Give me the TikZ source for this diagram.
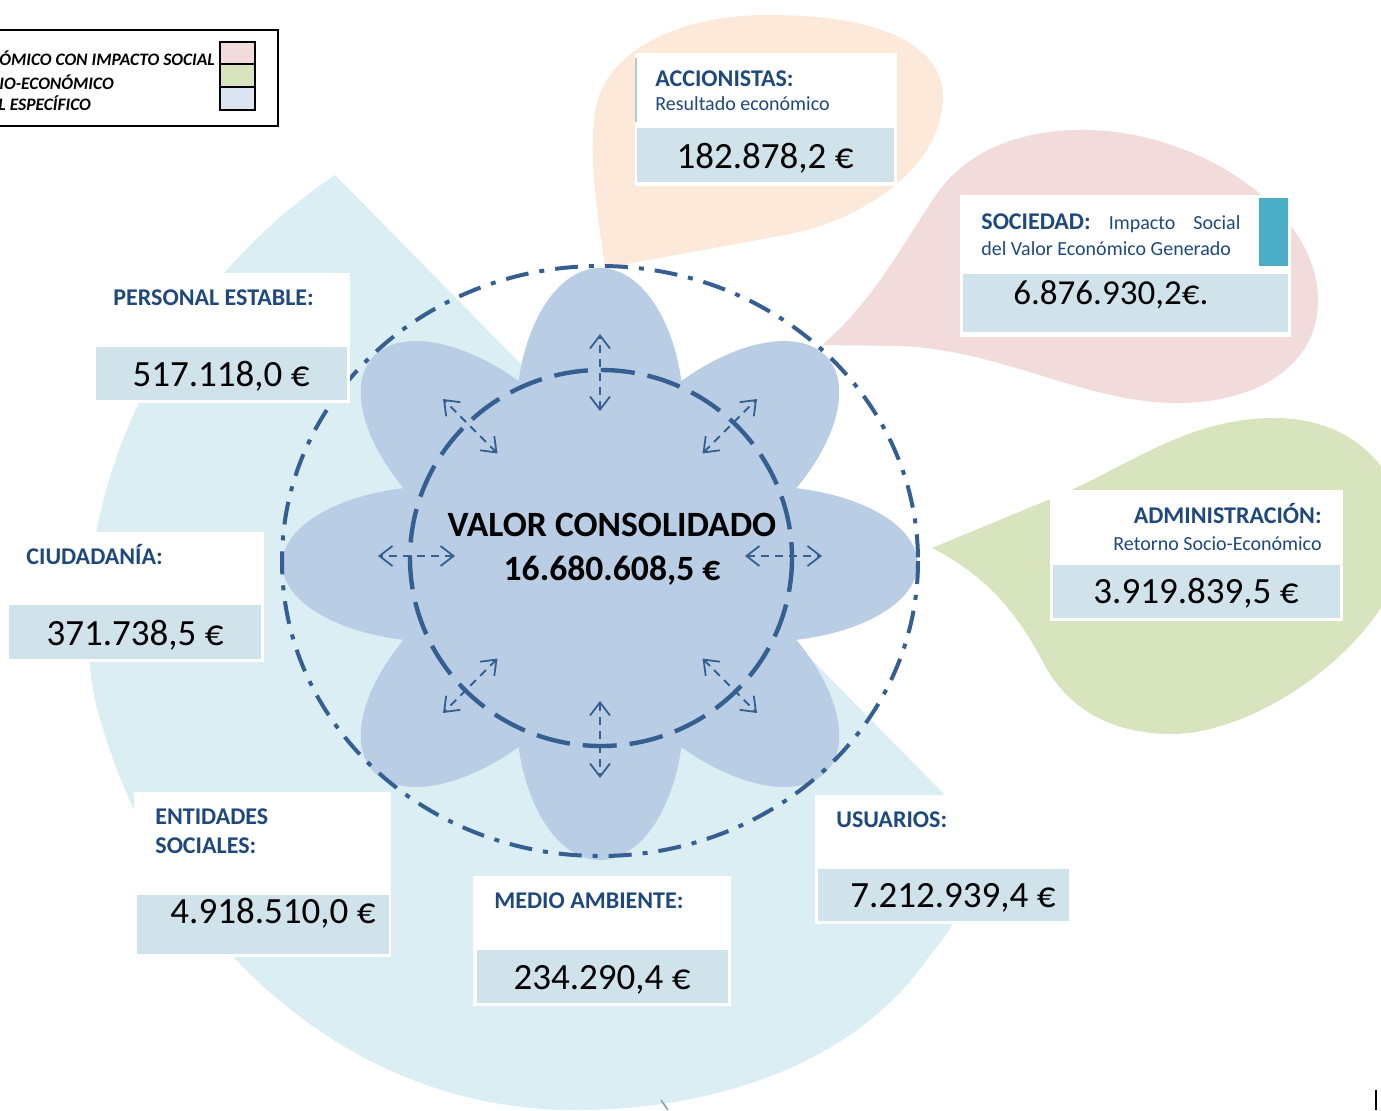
\documentclass[tikz,border=0pt]{standalone}
\usepackage{fontspec}
\setmainfont{Carlito}
\usetikzlibrary{arrows.meta}

\definecolor{lblblue}{HTML}{1F497D}
\definecolor{ringblue}{HTML}{365F91}
\definecolor{petal}{HTML}{B9CDE5}
\definecolor{drop}{HTML}{DAEEF3}
\definecolor{valfill}{HTML}{D0E2EA}
\definecolor{peach}{HTML}{FDE9D9}
\definecolor{rose}{HTML}{F2DCDB}
\definecolor{sage}{HTML}{D7E4BD}
\definecolor{sky}{HTML}{DBE5F1}
\definecolor{tealbar}{HTML}{4BACC6}
\definecolor{edgeline}{RGB}{170,205,215}

\tikzset{
	lbl/.style = {anchor = base west, inner sep = 0, text = lblblue, font = \fontsize{12}{14}\selectfont\bfseries},
	sub/.style = {anchor = base west, inner sep = 0, text = lblblue, font = \fontsize{10}{13}\selectfont},
	val/.style = {anchor = base, inner sep = 0, font = \fontsize{18.5}{22}\selectfont},
	legtxt/.style = {anchor = base west, inner sep = 0, font = \fontsize{8.75}{10}\selectfont\bfseries\itshape},
	swatch/.style = {draw = black, line width = 0.8pt},
	ring/.style = {draw = ringblue, line width = 2pt},
	dbl/.style = {<->, ringblue, line width = 0.9pt, dash pattern = on 4pt off 3pt}
}

\begin{document}
\begin{tikzpicture}[x = 0.5pt, y = -0.5pt, > = {Straight Barb[length = 6.5pt, width = 10pt]}]

	% Definitions

	\def\R{148}		% Petal half length
	\def\W{78}		% Petal half width

	\useasboundingbox (0, 0) rectangle (1381, 1110);

	% Speech bubbles

	\fill [peach] (605, 268) .. controls (598, 215) and (588, 160) .. (595, 112) .. controls (605, 45) and (690, 14) .. (770, 15) .. controls (880, 15) and (945, 45) .. (943, 100) .. controls (940, 170) and (860, 220) .. (790, 234) -- cycle;
	\fill [rose] (822, 345) .. controls (875, 300) and (905, 240) .. (936, 195) .. controls (965, 152) and (1020, 128) .. (1090, 130) .. controls (1200, 133) and (1318, 210) .. (1318, 300) .. controls (1318, 370) and (1250, 405) .. (1170, 403) .. controls (1080, 400) and (1000, 350) .. (900, 346) -- cycle;
	\fill [sage] (932, 548) -- (1060, 495) .. controls (1130, 465) and (1185, 420) .. (1270, 418) .. controls (1360, 416) and (1410, 480) .. (1405, 550) .. controls (1390, 640) and (1260, 735) .. (1170, 734) .. controls (1100, 733) and (1062, 700) .. (1042, 660) .. controls (1015, 610) and (985, 575) .. cycle;

	% Big drop

	\fill [drop] (335, 175) -- (940, 790) .. controls (990, 840) and (975, 905) .. (930, 955) .. controls (860, 1060) and (720, 1112) .. (565, 1110) .. controls (330, 1105) and (150, 920) .. (95, 700) .. controls (60, 520) and (150, 300) .. cycle;

	% Flower

	\begin{scope}[shift = {(600, 564)}, xscale = 1.073]
		\fill [petal] (0, 0) circle (190);
		\foreach \a in {0, 45, ..., 315}
			\fill [petal, rotate = \a] (\R, 0) ellipse [x radius = \R, y radius = \W];
	\end{scope}

	% Rings

	\draw [ring, dash pattern = on 11.5pt off 5.5pt on 2.5pt off 5.5pt] (600, 561) ellipse [x radius = 318, y radius = 295];
	\draw [ring, line width = 2.2pt, dash pattern = on 17pt off 6.5pt] (601, 558) ellipse [x radius = 191, y radius = 188];

	% Double arrows

	\begin{scope}[shift = {(600, 556)}]
		\foreach \a in {0, 45, ..., 315}
			\draw [dbl] (\a : 145) -- (\a : 222);
	\end{scope}

	% Centre

	\node [anchor = base, inner sep = 0, font = \fontsize{17.8}{20}\selectfont\bfseries] (total lbl) at (612, 536) {VALOR CONSOLIDADO};
	\node [anchor = base, inner sep = 0, font = \fontsize{17.8}{20}\selectfont\bfseries] (total val) at (612, 580) {16.680.608,5 €};

	% Accionistas

	\fill [white] (635, 53) rectangle (897, 186);
	\fill [valfill] (637, 128) rectangle (894, 182);
	\draw [edgeline, line width = 0.6pt] (636, 58) -- (636, 122);
	\node [lbl] (acc lbl) at (655, 86) {ACCIONISTAS:};
	\node [sub] (acc sub) at (655, 110) {Resultado económico};
	\node [val] (acc val) at (765, 168) {182.878,2 €};

	% Sociedad

	\fill [white] (960, 195) rectangle (1291, 337);
	\fill [tealbar] (1259, 198) rectangle (1288, 266);
	\fill [valfill] (963, 274) rectangle (1288, 332);
	\node [lbl] (soc lbl) at (981, 229) {\makebox[129.5pt]{SOCIEDAD:\hfill\mdseries\fontsize{10}{13}\selectfont Impacto\hfill Social}};
	\node [sub] (soc sub) at (981, 255) {del Valor Económico Generado};
	\node [val, anchor = base west, font = \fontsize{17.5}{21}\selectfont] (soc val) at (1013, 304) {6.876.930,2€.};

	% Administracion

	\fill [white] (1050, 490) rectangle (1343, 621);
	\fill [valfill] (1053, 565) rectangle (1340, 618);
	\node [lbl, anchor = base east] (adm lbl) at (1322, 523) {ADMINISTRACIÓN:};
	\node [sub, anchor = base east] (adm sub) at (1322, 550) {Retorno Socio-Económico};
	\node [val] (adm val) at (1196, 603) {3.919.839,5 €};

	% Personal estable

	\fill [white] (96, 273) rectangle (350, 403);
	\fill [valfill] (96, 347) rectangle (347, 400);
	\node [lbl] (per lbl) at (113, 305) {PERSONAL ESTABLE:};
	\node [val] (per val) at (221, 386) {517.118,0 €};

	% Ciudadania

	\fill [white] (8, 532) rectangle (264, 662);
	\fill [valfill] (9, 605) rectangle (261, 659);
	\node [lbl] (ciu lbl) at (26, 564) {CIUDADANÍA:};
	\node [val] (ciu val) at (135, 645) {371.738,5 €};

	% Entidades sociales

	\fill [white] (134, 792) rectangle (391, 957);
	\fill [valfill] (137, 895) rectangle (389, 954);
	\node [lbl] (ent lbl) at (155, 824) {ENTIDADES};
	\node [lbl] (ent lbl2) at (155, 853) {SOCIALES:};
	\node [val] (ent val) at (273, 923) {4.918.510,0 €};

	% Medio ambiente

	\fill [white] (473, 876) rectangle (731, 1006);
	\fill [valfill] (477, 950) rectangle (728, 1003);
	\node [lbl] (med lbl) at (494, 908) {MEDIO AMBIENTE:};
	\node [val] (med val) at (602, 989) {234.290,4 €};

	% Usuarios

	\fill [white] (815, 795) rectangle (1070, 924);
	\fill [valfill] (818, 869) rectangle (1069, 921);
	\node [lbl] (usu lbl) at (836, 827) {USUARIOS:};
	\node [val] (usu val) at (953, 907) {7.212.939,4 €};

	% Legend

	\draw [line width = 1pt, fill = white] (-10, 30) rectangle (278, 126);
	\draw [swatch, fill = rose] (220, 42) rectangle (255, 64);
	\draw [swatch, fill = sage] (220, 64) rectangle (255, 87);
	\draw [swatch, fill = sky] (220, 87) rectangle (255, 110);
	\node [legtxt] (leg a) at (-1, 65) {ÓMICO CON IMPACTO SOCIAL};
	\node [legtxt] (leg b) at (-1, 89) {IO-ECONÓMICO};
	\node [legtxt] (leg c) at (-2, 110) {L ESPECÍFICO};

	% Bits at the lower edge

	\draw [ringblue!60, line width = 0.8pt] (661, 1100) -- (668, 1110);
	\draw [black, line width = 0.8pt] (1376, 1090) -- (1376, 1110);

\end{tikzpicture}
\end{document}
